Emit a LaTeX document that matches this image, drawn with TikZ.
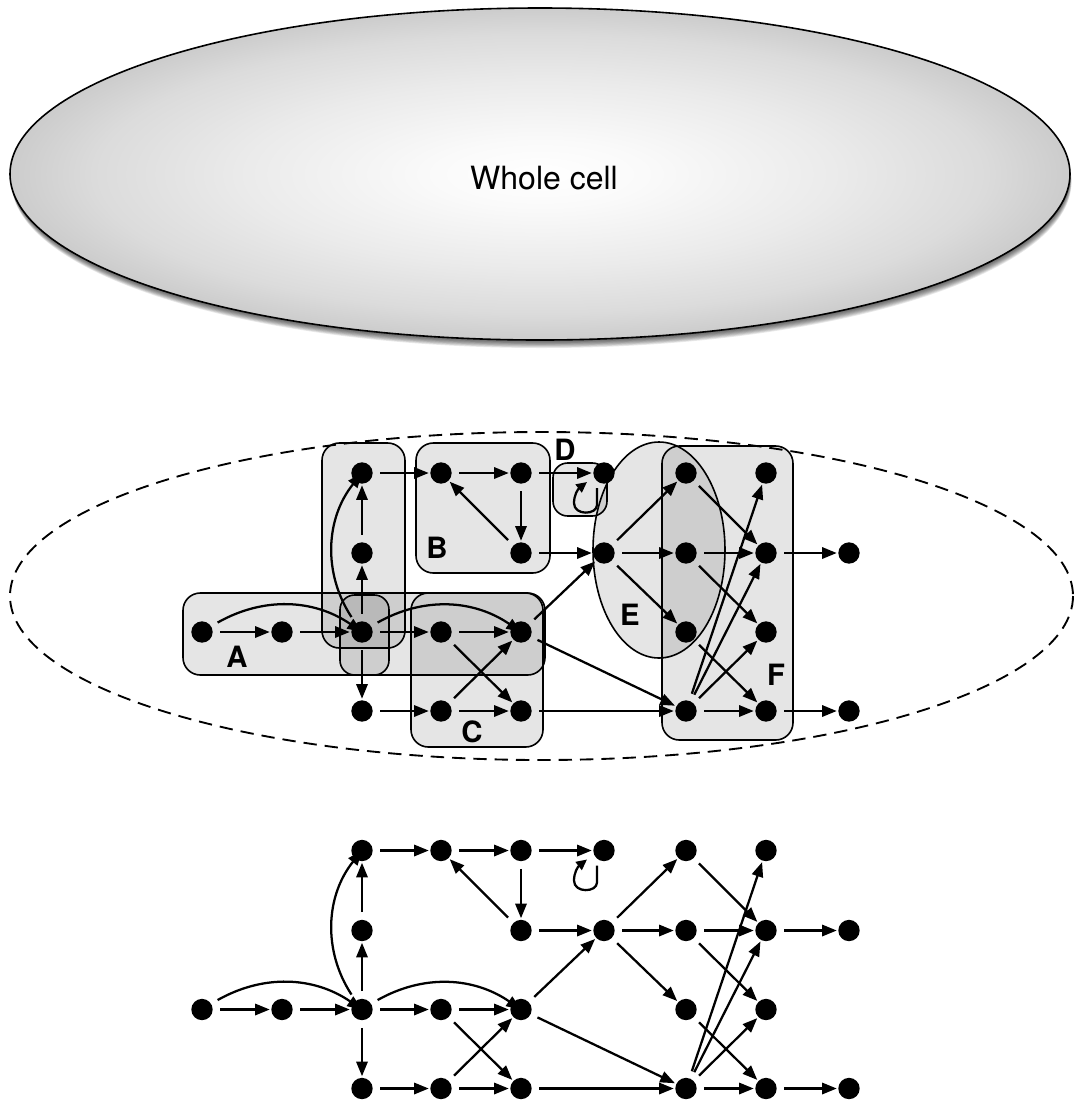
\documentclass[tikz,border=0pt]{standalone}
\usepackage{fontspec}
\setmainfont{TeX Gyre Heros}
\usetikzlibrary{arrows.meta}

\pgfdeclareradialshading{cellshade}{\pgfpoint{0bp}{0bp}}{%
  color(0bp)=(white);
  color(5bp)=(white!98!black);
  color(14bp)=(white!92!black);
  color(21bp)=(white!86!black);
  color(25bp)=(white!80!black);
  color(50bp)=(white!80!black)}

\newcommand{\drawnet}{%
  \node[dot] (a1) at (202,632) {};
  \node[dot] (a2) at (282,632) {};
  \node[dot] (h)  at (362,632) {};
  \node[dot] (v2) at (362,553) {};
  \node[dot] (v1) at (362,473) {};
  \node[dot] (v4) at (362,711) {};
  \node[dot] (b1) at (441,473) {};
  \node[dot] (b2) at (521,473) {};
  \node[dot] (b3) at (521,553) {};
  \node[dot] (d)  at (604,473) {};
  \node[dot] (c1) at (441,632) {};
  \node[dot] (c2) at (521,632) {};
  \node[dot] (c3) at (441,711) {};
  \node[dot] (c4) at (521,711) {};
  \node[dot] (e1) at (604,553) {};
  \node[dot] (e2) at (686,473) {};
  \node[dot] (e3) at (686,553) {};
  \node[dot] (e4) at (686,632) {};
  \node[dot] (f1) at (686,711) {};
  \node[dot] (f2) at (766,473) {};
  \node[dot] (f3) at (766,553) {};
  \node[dot] (f4) at (766,632) {};
  \node[dot] (f5) at (766,711) {};
  \node[dot] (o1) at (849,553) {};
  \node[dot] (o2) at (849,711) {};
  \draw[arr] (a1) -- (a2);
  \draw[arr] (a1) to[bend left=32] (h);
  \draw[arr] (a2) -- (h);
  \draw[arr] (h) -- (v2);
  \draw[arr] (v2) -- (v1);
  \draw[arr] (h) to[bend left=36] (v1);
  \draw[arr] (h) -- (v4);
  \draw[arr] (h) -- (c1);
  \draw[arr] (h) to[bend left=32] (c2);
  \draw[arr] (c1) -- (c2);
  \draw[arr] (c1) -- (c4);
  \draw[arr] (v4) -- (c3);
  \draw[arr] (c3) -- (c4);
  \draw[arr] (c3) -- (c2);
  \draw[arr] (v1) -- (b1);
  \draw[arr] (b1) -- (b2);
  \draw[arr] (b2) -- (b3);
  \draw[arr] (b3) -- (b1);
  \draw[arr] (b2) -- (d);
  \draw[loop arr] ([shift={(-7,15)}]d.center) -- ([shift={(-7,32)}]d.center)
     .. controls ([shift={(-7,42)}]d.center) and ([shift={(-30,43)}]d.center) ..
     ([shift={(-30,30)}]d.center)
     .. controls ([shift={(-30,22)}]d.center) and ([shift={(-26,16)}]d.center) ..
     ([shift={(-17,9)}]d.center);
  \draw[arr] (b3) -- (e1);
  \draw[arr] (c2) -- (e1);
  \draw[arr] (c2) -- (f1);
  \draw[arr] (c4) -- (f1);
  \draw[arr] (e1) -- (e2);
  \draw[arr] (e1) -- (e3);
  \draw[arr] (e1) -- (e4);
  \draw[arr] (e2) -- (f3);
  \draw[arr] (e3) -- (f3);
  \draw[arr] (e3) -- (f4);
  \draw[arr] (e4) -- (f5);
  \draw[arr] (f1) -- (f2);
  \draw[arr] (f1) -- (f3);
  \draw[arr] (f1) -- (f4);
  \draw[arr] (f1) -- (f5);
  \draw[arr] (f3) -- (o1);
  \draw[arr] (f5) -- (o2);
}

\begin{document}
\begin{tikzpicture}[x=0.75pt,y=-0.75pt,
  dot/.style={circle,fill=black,inner sep=0pt,minimum size=16pt,outer sep=1.2pt},
  arr/.style={line width=1.7pt,-{Triangle[length=11pt,width=8.5pt]},shorten <=4.5pt},
  loop arr/.style={line width=1.7pt,-{Triangle[length=8pt,width=7.5pt]}},
  grp/.style={draw=black,line width=1.2pt,fill=black,fill opacity=0.1,rounded corners=13pt},
  grpe/.style={draw=black,line width=1.2pt,fill=black,fill opacity=0.1},
  lab/.style={font=\fontsize{22}{22}\selectfont\bfseries,inner sep=0pt},
]
\useasboundingbox (0,0) rectangle (1074,1101);

% whole cell
\foreach \k in {1,...,10}
  \fill[black,opacity=0.085] (540+0.15*\k,174+0.8*\k) ellipse [x radius=530, y radius=166];
\path[shading=cellshade] (540,174) ellipse [x radius=530, y radius=166];
\draw[black,line width=1.2pt] (540,174) ellipse [x radius=530, y radius=166];
\node[font=\fontsize{24}{24}\selectfont] (wc) at (544,178) {Whole cell};

% dashed compartment
\draw[line width=1.4pt,dash pattern=on 10pt off 6pt] (541.5,596) ellipse [x radius=531.5, y radius=164];

% groups
\filldraw[grp] (183,593) rectangle (545,675);
\filldraw[grp] (322,443) rectangle (405,648);
\filldraw[grp,rounded corners=11pt] (340,595) rectangle (389,675);
\filldraw[grp] (416,443) rectangle (550,573);
\filldraw[grp] (411,593) rectangle (543,747);
\filldraw[grp,rounded corners=11pt] (553,463) rectangle (607,516);
\filldraw[grpe] (659,550) ellipse [x radius=66, y radius=108];
\filldraw[grp] (662,446) rectangle (793,740);

\node[lab] (lA) at (237,657) {A};
\node[lab] (lB) at (437,548) {B};
\node[lab] (lC) at (472,732) {C};
\node[lab] (lD) at (565,450) {D};
\node[lab] (lE) at (630,615) {E};
\node[lab] (lF) at (776,675) {F};

\begin{scope}[name prefix=m-]
\drawnet
\end{scope}
\begin{scope}[shift={(0,377.5)},name prefix=b-]
\drawnet
\end{scope}
\end{tikzpicture}
\end{document}
